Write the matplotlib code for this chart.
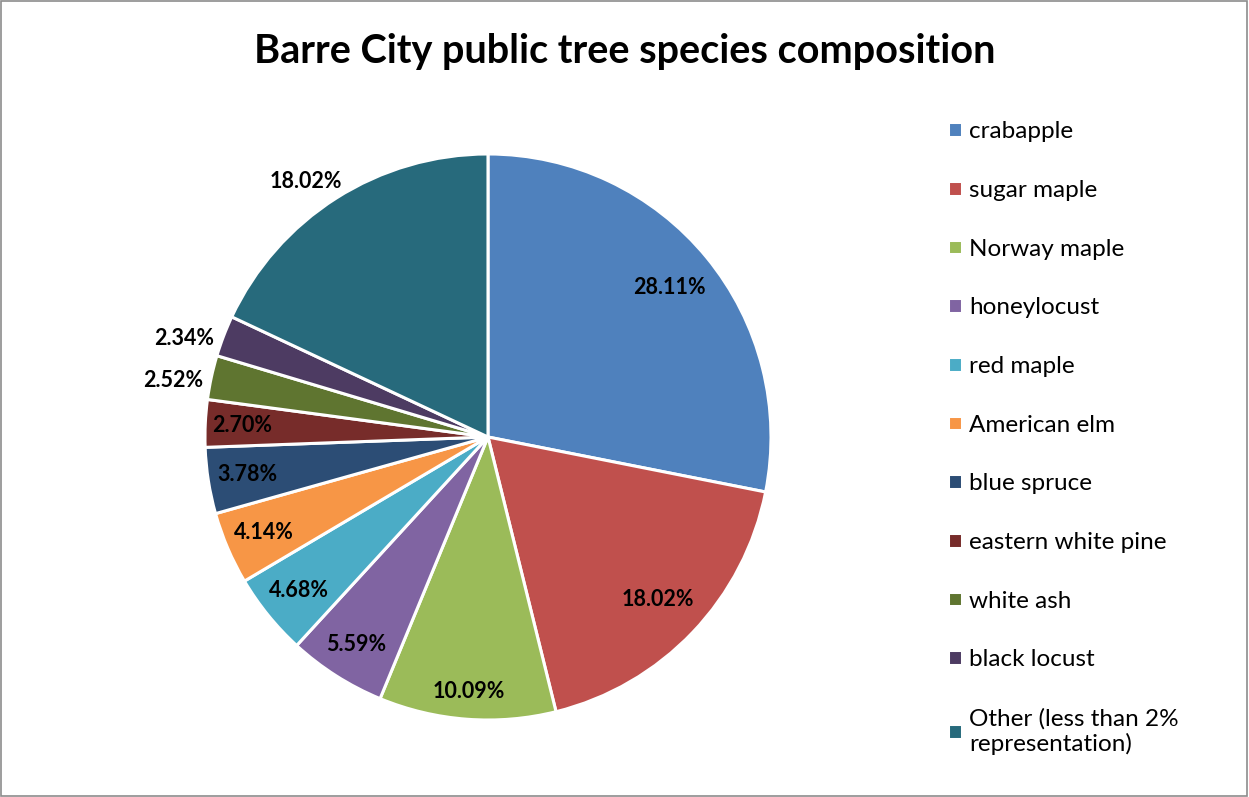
import numpy as np
import matplotlib.pyplot as plt
from matplotlib.patches import Rectangle

# Public tree species shares (percent of inventory)
species = ['crabapple', 'sugar maple', 'Norway maple', 'honeylocust', 'red maple',
           'American elm', 'blue spruce', 'eastern white pine', 'white ash',
           'black locust', 'Other (less than 2%\nrepresentation)']
shares = [28.11, 18.02, 10.09, 5.59, 4.68, 4.14, 3.78, 2.70, 2.52, 2.34, 18.02]
colors = ['#4F81BD', '#C0504D', '#9BBB59', '#8064A2', '#4BACC6', '#F79646',
          '#2C4D75', '#772C2A', '#5F7530', '#4D3B62', '#276A7C']
# percent label placement: radius fraction and angular nudge (degrees)
label_r = [0.83, 0.83, 0.9, 0.87, 0.86, 0.86, 0.86, 0.87, 1.13, 1.13, 1.11]
label_dang = [0, 0, 0, 0, 0, 0, 0, 0, 2, 3, 3]

plt.rcParams['font.family'] = ['Lato', 'DejaVu Sans']

fig = plt.figure(figsize=(12.49, 7.97), dpi=100)
fig.patches.append(Rectangle((0.0005, 0.0008), 0.998, 0.998, transform=fig.transFigure,
                             fill=False, edgecolor='#8c8c8c', linewidth=1.2))

ax = fig.add_axes([0.1641, 0.0966, 0.4532, 0.7102])
wedges, _ = ax.pie(shares, colors=colors, startangle=90, counterclock=False,
                   radius=1.0, wedgeprops=dict(edgecolor='white', linewidth=2.2))
ax.set_xlim(-1, 1)
ax.set_ylim(-1, 1)
ax.set_aspect('equal')
ax.axis('off')

for w, val, r, da in zip(wedges, shares, label_r, label_dang):
    mid = np.deg2rad((w.theta1 + w.theta2) / 2 + da)
    ax.text(r * np.cos(mid), r * np.sin(mid), f'{val:.2f}%', ha='center', va='center',
            fontsize=15.5, fontweight='bold', color='black')

fig.suptitle('Barre City public tree species composition', x=0.5, y=0.958,
             fontsize=28.5, fontweight='bold')

fig.legend(wedges, species, loc='upper left', bbox_to_anchor=(0.7515, 0.86),
           frameon=False, fontsize=17.5, handlelength=0.55, handleheight=0.55,
           handletextpad=0.3, labelspacing=1.55, borderaxespad=0)

fig.savefig('out.png', dpi=100)
